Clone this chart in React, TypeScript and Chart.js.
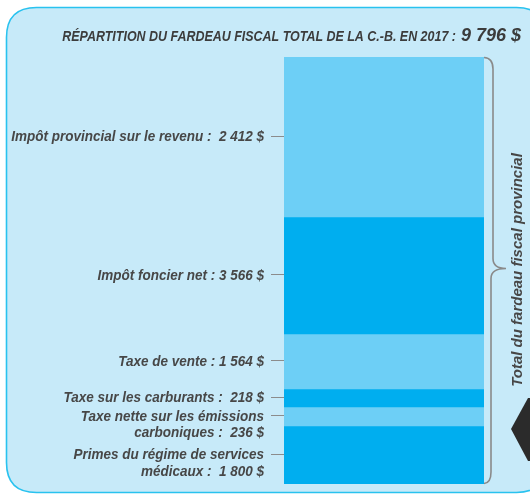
import React, { useEffect, useRef } from "react";
import { Chart, registerables } from "chart.js";

Chart.register(...registerables);

// Categories, top to bottom
const categories = [
  ["Impôt provincial sur le revenu :  2 412 $"],
  ["Impôt foncier net : 3 566 $"],
  ["Taxe de vente : 1 564 $"],
  ["Taxe sur les carburants :  218 $"],
  ["Taxe nette sur les émissions", "carboniques :  236 $"],
  ["Primes du régime de services", "médicaux :  1 800 $"],
];
// Dollar amounts printed in the labels
const amounts = [2412, 3566, 1564, 218, 236, 1800];
// Segment sizes as drawn in the infographic (it is not drawn to scale)
const segmentSizes = [3670, 2684, 1262, 413, 436, 1331];
const segmentColors = ["#6DCFF6", "#00AEEF", "#6DCFF6", "#00AEEF", "#6DCFF6", "#00AEEF"];
const titleText = "RÉPARTITION DU FARDEAU FISCAL TOTAL DE LA C.-B. EN 2017 :";
const totalText = "9 796 $";
const braceText = "Total du fardeau fiscal provincial";
const total = segmentSizes.reduce((a, b) => a + b, 0);

const FONT = "'Liberation Sans', 'DejaVu Sans', sans-serif";
const TEXT = "#474747";
const SX = 0.9;

function roundRect(ctx: CanvasRenderingContext2D, x: number, y: number, w: number, h: number, r: number) {
  ctx.beginPath();
  ctx.moveTo(x + r, y);
  ctx.lineTo(x + w - r, y);
  ctx.quadraticCurveTo(x + w, y, x + w, y + r);
  ctx.lineTo(x + w, y + h - r);
  ctx.quadraticCurveTo(x + w, y + h, x + w - r, y + h);
  ctx.lineTo(x + r, y + h);
  ctx.quadraticCurveTo(x, y + h, x, y + h - r);
  ctx.lineTo(x, y + r);
  ctx.quadraticCurveTo(x, y, x + r, y);
  ctx.closePath();
}

function fillScaled(ctx: CanvasRenderingContext2D, text: string, x: number, y: number, sx: number) {
  ctx.save();
  ctx.translate(x, y);
  ctx.scale(sx, 1);
  ctx.fillText(text, 0, 0);
  ctx.restore();
}

const decorPlugin = {
  id: "decor",
  beforeDraw(chart: any) {
    const ctx: CanvasRenderingContext2D = chart.ctx;
    ctx.save();
    roundRect(ctx, 6.5, 7.5, 540, 485, 30);
    ctx.fillStyle = "#C7EAF9";
    ctx.fill();
    ctx.lineWidth = 1.6;
    ctx.strokeStyle = "#29C2EF";
    ctx.stroke();
    ctx.restore();
  },
  afterDraw(chart: any) {
    const ctx: CanvasRenderingContext2D = chart.ctx;
    const ys = chart.scales.y;
    const area = chart.chartArea;
    ctx.save();

    // Title
    ctx.fillStyle = "#3C3C3C";
    ctx.textBaseline = "alphabetic";
    ctx.textAlign = "right";
    ctx.font = `italic bold 18px ${FONT}`;
    const tw = ctx.measureText(totalText).width;
    ctx.fillText(totalText, 521, 41);
    ctx.font = `italic bold 14px ${FONT}`;
    fillScaled(ctx, titleText, 521 - tw - 5, 41, 0.89);

    // Labels and leader lines
    let cum = 0;
    segmentSizes.forEach((v, i) => {
      const yc = ys.getPixelForValue(cum + v / 2);
      cum += v;
      ctx.strokeStyle = "#8C8C8C";
      ctx.lineWidth = 1;
      ctx.beginPath();
      ctx.moveTo(271, Math.round(yc) - 0.5);
      ctx.lineTo(area.left, Math.round(yc) - 0.5);
      ctx.stroke();
      ctx.fillStyle = TEXT;
      ctx.font = `italic bold 15px ${FONT}`;
      ctx.textAlign = "right";
      ctx.textBaseline = "middle";
      categories[i].forEach((line, j) => {
        fillScaled(ctx, line, 264, yc + j * 16.5, SX);
      });
    });

    // Brace
    const top = ys.getPixelForValue(0);
    const bot = ys.getPixelForValue(total);
    const mid = (top + bot) / 2 - 2;
    const bx = 492;
    ctx.strokeStyle = "#8A8A8A";
    ctx.lineWidth = 1.6;
    ctx.beginPath();
    ctx.moveTo(area.right, top + 0.5);
    ctx.quadraticCurveTo(bx + 1, top + 1, bx + 1, top + 12);
    ctx.lineTo(bx + 1, mid - 10);
    ctx.quadraticCurveTo(bx + 1, mid, bx + 14, mid);
    ctx.moveTo(bx + 14, mid);
    ctx.quadraticCurveTo(bx - 1, mid, bx - 1, mid + 10);
    ctx.lineTo(bx - 1, bot - 12);
    ctx.quadraticCurveTo(bx - 1, bot - 1, area.right, bot - 0.5);
    ctx.stroke();

    // Rotated brace label
    ctx.save();
    ctx.translate(522, 270);
    ctx.rotate(-Math.PI / 2);
    ctx.font = `italic bold 15px ${FONT}`;
    ctx.fillStyle = TEXT;
    ctx.textAlign = "center";
    ctx.textBaseline = "alphabetic";
    ctx.fillText(braceText, 0, 0);
    ctx.restore();

    // Arrow head at the right edge
    ctx.fillStyle = "#2B2B2B";
    ctx.beginPath();
    ctx.moveTo(528, 398);
    ctx.lineTo(511, 429);
    ctx.lineTo(528, 461);
    ctx.lineTo(531, 461);
    ctx.lineTo(531, 398);
    ctx.closePath();
    ctx.fill();

    ctx.restore();
  },
};

export default function App() {
  const ref = useRef<HTMLCanvasElement | null>(null);
  useEffect(() => {
    if (!ref.current) return;
    const chart = new Chart(ref.current, {
      type: "bar",
      data: {
        labels: ["2017"],
        datasets: segmentSizes.map((v, i) => ({
          label: categories[i].join(" "),
          data: [v],
          backgroundColor: segmentColors[i],
          borderWidth: 0,
          barPercentage: 1,
          categoryPercentage: 1,
          stack: "s",
        })),
      },
      options: {
        animation: false,
        responsive: false,
        devicePixelRatio: 1,
        layout: { padding: { left: 284, right: 46, top: 57, bottom: 11 } },
        plugins: { legend: { display: false }, tooltip: { enabled: false }, title: { display: false } },
        scales: {
          x: { stacked: true, display: false },
          y: { stacked: true, display: false, reverse: true, min: 0, max: total, grace: 0 },
        },
      },
      plugins: [decorPlugin],
    });
    return () => chart.destroy();
  }, []);
  return (
    <div style={{ position: "absolute", left: 0, top: 0, width: 530, height: 495, overflow: "hidden" }}>
      <canvas ref={ref} width={530} height={495} />
    </div>
  );
}
